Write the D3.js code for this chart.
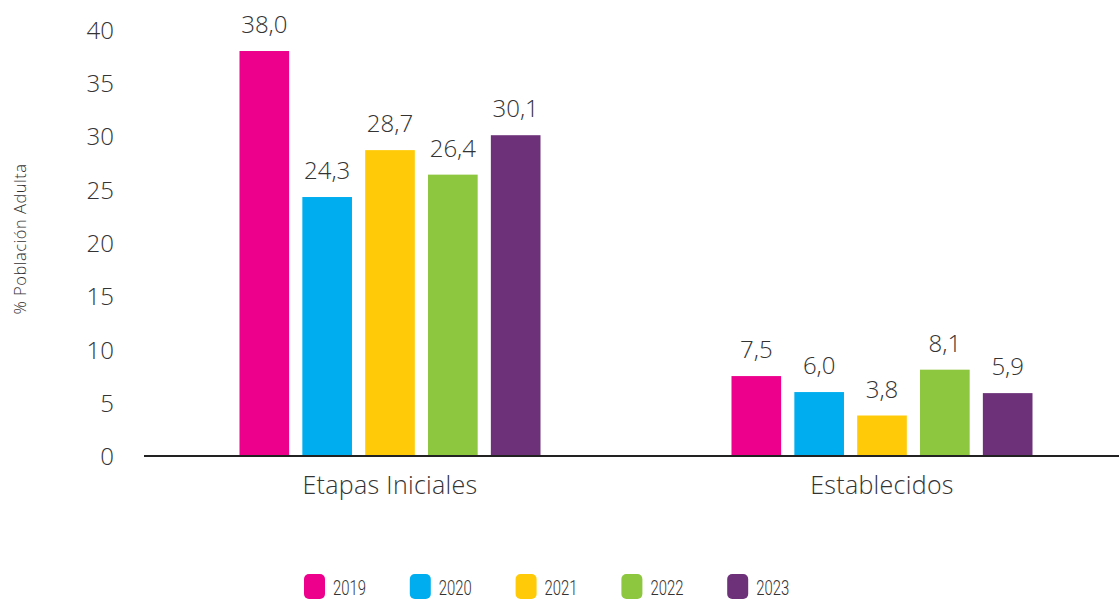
<!DOCTYPE html>
<html><head><meta charset="utf-8">
<script src="https://cdn.jsdelivr.net/npm/d3@7"></script>
<style>body{margin:0;background:#fff}svg{display:block}</style>
</head><body>
<script>
const categories = ["Etapas Iniciales", "Establecidos"];
const years = ["2019", "2020", "2021", "2022", "2023"];
const v2019 = [38.0, 7.5];
const v2020 = [24.3, 6.0];
const v2021 = [28.7, 3.8];
const v2022 = [26.4, 8.1];
const v2023 = [30.1, 5.9];
const yTicks = [0, 5, 10, 15, 20, 25, 30, 35, 40];
const colors = ["#EC008C", "#00AEEF", "#FFCB08", "#8DC63F", "#6D317A"];
const series = [v2019, v2020, v2021, v2022, v2023];

const W = 1119, H = 601;
const svg = d3.select("body").append("svg").attr("width", W).attr("height", H);
const font = "'Open Sans', Lato, sans-serif";

const y = d3.scaleLinear().domain([0, 40]).range([456, 29.7]);
const x0 = d3.scaleBand().domain(categories).range([144, 1128]).paddingInner(0).paddingOuter(0);
const x1 = d3.scaleBand().domain(years).range([0, 301]).paddingInner(0.21).paddingOuter(0);
const groupOffset = (x0.bandwidth() - 301) / 2;

// y axis labels
const yAxis = d3.axisLeft(y).tickValues(yTicks).tickSize(0).tickPadding(0).tickFormat(d3.format("d"));
const ga = svg.append("g").attr("transform", "translate(114,0)").call(yAxis);
ga.select(".domain").remove();
ga.selectAll("text").attr("font-family", font).attr("font-size", 24).attr("fill", "#333")
  .attr("font-weight", 300).attr("dy", "0.36em");

// bars
categories.forEach((c, ci) => {
  const g = svg.append("g").attr("transform", `translate(${x0(c) + groupOffset},0)`);
  years.forEach((yr, si) => {
    const v = series[si][ci];
    g.append("rect").attr("x", x1(yr)).attr("width", x1.bandwidth())
      .attr("y", y(v)).attr("height", y(0) - y(v)).attr("fill", colors[si]);
    g.append("text").attr("x", x1(yr) + x1.bandwidth() / 2).attr("y", y(v) - 18)
      .attr("text-anchor", "middle").attr("font-family", font).attr("font-size", 24)
      .attr("font-weight", 300).attr("fill", "#333")
      .text(v.toFixed(1).replace(".", ","));
  });
  svg.append("text").attr("x", x0(c) + x0.bandwidth() / 2).attr("y", 494)
    .attr("text-anchor", "middle").attr("font-family", font).attr("font-size", 25)
    .attr("letter-spacing", 0.3)
    .attr("font-weight", 300).attr("fill", "#333").text(c);
});

// baseline
svg.append("line").attr("x1", 144).attr("x2", W).attr("y1", y(0)).attr("y2", y(0))
  .attr("stroke", "#222").attr("stroke-width", 2);

// y title
svg.append("text").attr("transform", `translate(26,239) rotate(-90)`)
  .attr("text-anchor", "middle").attr("font-family", font).attr("font-size", 16.5)
  .attr("letter-spacing", 0.5)
  .attr("font-weight", 300).attr("fill", "#333").text("% Población Adulta");

// legend
const lg = svg.append("g");
years.forEach((yr, i) => {
  const lx = 304 + i * 105.8;
  lg.append("rect").attr("x", lx).attr("y", 574).attr("width", 21).attr("height", 25)
    .attr("rx", 5).attr("fill", colors[i]);
  lg.append("text").attr("x", lx + 29).attr("y", 595).attr("font-family", "Roboto, sans-serif")
    .attr("font-size", 20.5).attr("font-weight", 300).attr("fill", "#333")
    .attr("textLength", 33).attr("lengthAdjust", "spacingAndGlyphs").text(yr);
});
</script>
</body></html>
